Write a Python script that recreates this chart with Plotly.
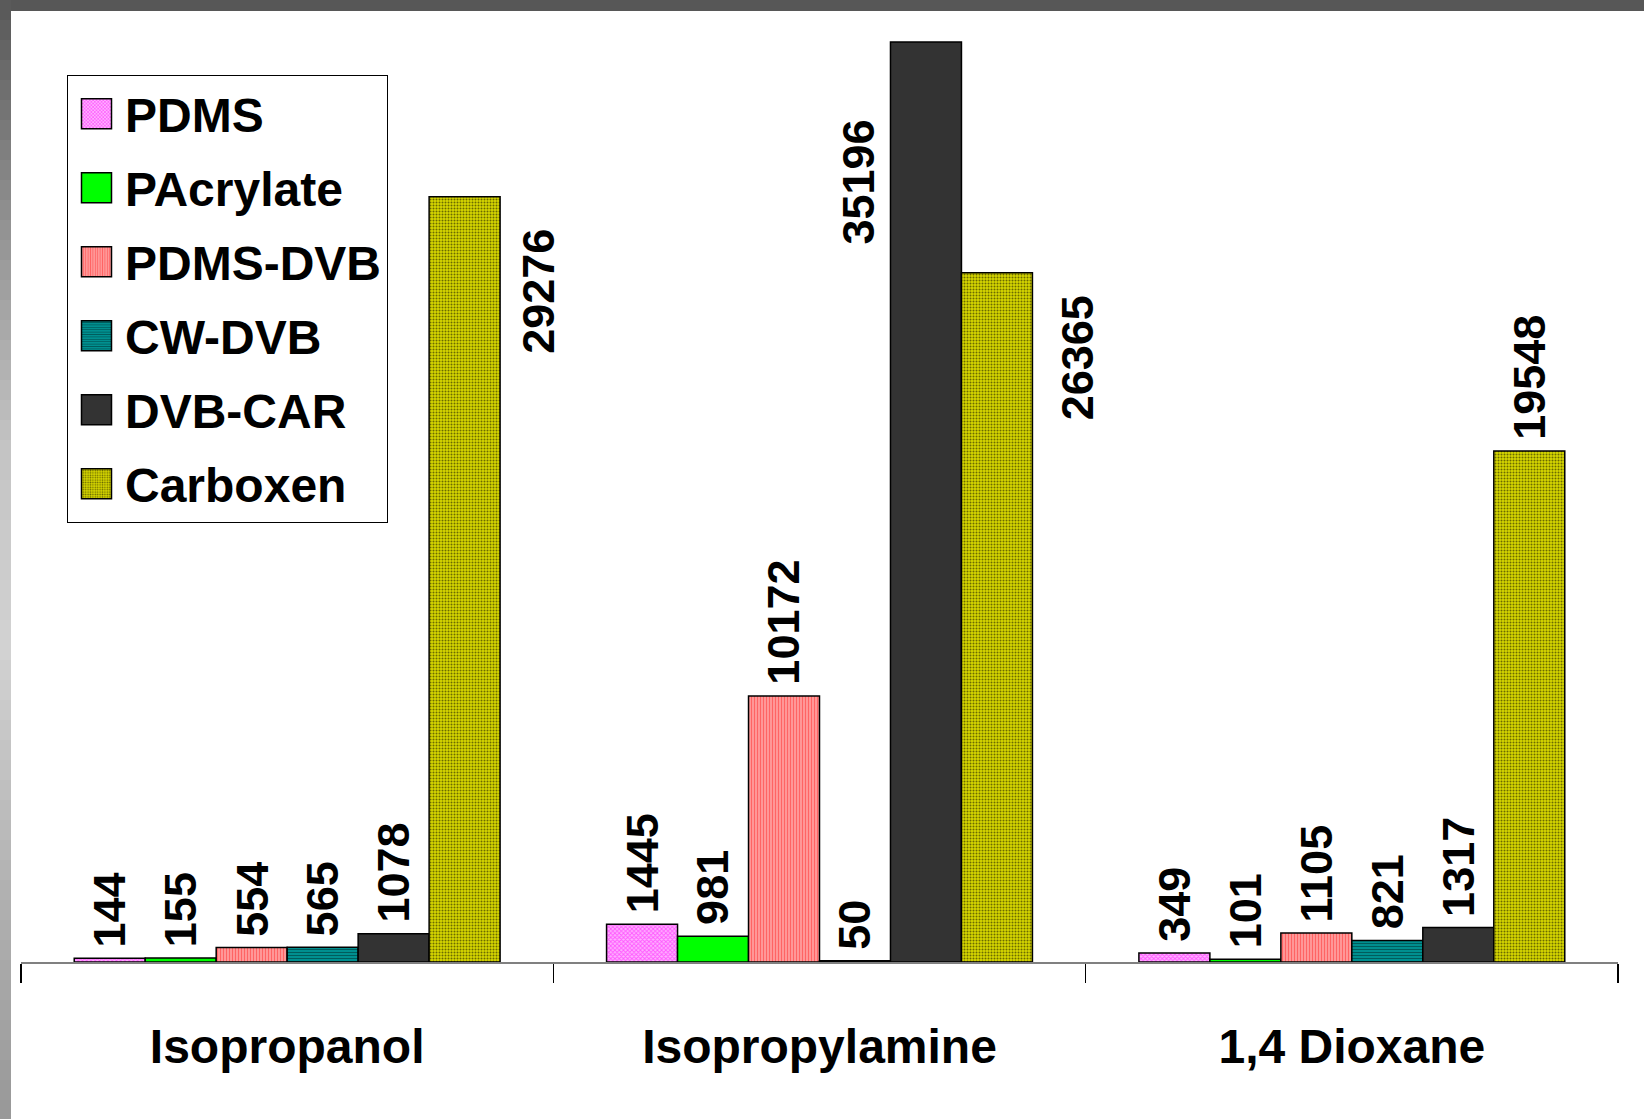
import plotly.graph_objects as go

# ---------------- data ----------------
categories = ["Isopropanol", "Isopropylamine", "1,4 Dioxane"]
series_names = ["PDMS", "PAcrylate", "PDMS-DVB", "CW-DVB", "DVB-CAR", "Carboxen"]
pdms = [144, 1445, 349]
pacrylate = [155, 981, 101]
pdms_dvb = [554, 10172, 1105]
cw_dvb = [565, 50, 821]
dvb_car = [1078, 35196, 1317]
carboxen = [29276, 26365, 19548]
series_values = [pdms, pacrylate, pdms_dvb, cw_dvb, dvb_car, carboxen]

# ---------------- styles ----------------
W, H = 1644, 1119
ML, MR, MT, MB = 21, 26, 21, 157
BARGAP = 0.2
YMAX = 36000

patterns = [
    dict(shape="x", bgcolor="#FFB0FF", fgcolor="#FF00FF", size=3, solidity=0.5),
    dict(shape="", bgcolor="#00FF00"),
    dict(shape="|", bgcolor="#FFA8A8", fgcolor="#FF2020", size=3, solidity=0.5),
    dict(shape="-", bgcolor="#009999", fgcolor="#002020", size=3, solidity=0.45),
    dict(shape="", bgcolor="#333333"),
    dict(shape=".", bgcolor="#D6D600", fgcolor="#000000", size=3, solidity=0.35),
]
colors = ["#FF80FF", "#00FF00", "#FF7070", "#008080", "#333333", "#A0A000"]

# labels that were moved beside the bar: (series, category) -> (xshift px, yshift px from bar top)
moved_labels = {
    (5, 0): (74, -30),
    (5, 1): (80, -20),
    (4, 1): (-67, -75),
}

fig = go.Figure()
for i, (name, vals) in enumerate(zip(series_names, series_values)):
    pat = patterns[i]
    marker = dict(color=colors[i], line=dict(color="black", width=1.5))
    if pat["shape"]:
        marker["pattern"] = pat
    else:
        marker["color"] = pat["bgcolor"]
    fig.add_trace(go.Bar(
        x=categories, y=vals, name=name, marker=marker,
        legendgroup=name, hoverinfo="skip",
    ))

plot_w = W - ML - MR
bar_px = plot_w / len(categories) * (1 - BARGAP) / len(series_names)
label_font = dict(family="Liberation Sans, Arial", size=45, color="black", weight="bold")

annotations = []
for i, vals in enumerate(series_values):
    for j, v in enumerate(vals):
        dx = (i - (len(series_names) - 1) / 2) * bar_px
        if (i, j) in moved_labels:
            sx, sy = moved_labels[(i, j)]
            annotations.append(dict(
                x=categories[j], y=v, xref="x", yref="y", text=str(v),
                textangle=-90, showarrow=False, xanchor="center", yanchor="top",
                xshift=dx + sx, yshift=sy, font=label_font,
            ))
        else:
            annotations.append(dict(
                x=categories[j], y=v, xref="x", yref="y", text=str(v),
                textangle=-90, showarrow=False, xanchor="center", yanchor="bottom",
                xshift=dx, yshift=9, font=label_font,
            ))

# frame: dark top strip and grey gradient left strip
plot_h = H - MT - MB
def px2x(px):
    return (px - ML) / plot_w
def py2y(py):
    return (H - MB - py) / plot_h

shapes = [dict(type="rect", xref="paper", yref="paper",
               x0=px2x(0), x1=px2x(W), y0=py2y(11), y1=py2y(0),
               fillcolor="#575757", line=dict(width=0), layer="above")]
stops = [(0, 0x57), (200, 0x8C), (450, 0xC4), (650, 0xD2), (900, 0xB0), (1119, 0x98)]
step = 20
for py in range(0, H, step):
    mid = py + step / 2
    g = stops[-1][1]
    for k in range(len(stops) - 1):
        if stops[k][0] <= mid <= stops[k + 1][0]:
            t = (mid - stops[k][0]) / (stops[k + 1][0] - stops[k][0])
            g = int(round(stops[k][1] + t * (stops[k + 1][1] - stops[k][1])))
            break
    shapes.append(dict(type="rect", xref="paper", yref="paper",
                       x0=px2x(0), x1=px2x(11), y0=py2y(min(py + step, H)), y1=py2y(py),
                       fillcolor="rgb(%d,%d,%d)" % (g, g, g), line=dict(width=0), layer="above"))

fig.update_layout(
    width=W, height=H,
    margin=dict(l=ML, r=MR, t=MT, b=MB),
    paper_bgcolor="white", plot_bgcolor="white",
    barmode="group", bargap=BARGAP, bargroupgap=0,
    showlegend=True,
    legend=dict(
        x=px2x(67), y=py2y(75), xanchor="left", yanchor="top",
        bgcolor="white", bordercolor="black", borderwidth=1,
        font=dict(family="Liberation Sans, Arial", size=48, color="black", weight="bold"),
        tracegroupgap=8.6, itemwidth=47, traceorder="grouped",
    ),
    xaxis=dict(
        type="category", range=[-0.5, len(categories) - 0.5],
        showline=True, linecolor="#808080", linewidth=2,
        ticks="outside", tickson="boundaries", ticklen=19, tickwidth=1.5, tickcolor="black",
        tickfont=dict(family="Liberation Sans, Arial", size=48, color="black", weight="bold"),
        ticklabelstandoff=41, showgrid=False, zeroline=False, fixedrange=True,
    ),
    yaxis=dict(range=[0, YMAX], visible=False, showgrid=False, fixedrange=True),
    annotations=annotations,
    shapes=shapes,
)

post = """
document.body.style.margin = '0';
function enlargeLegendSymbols() {
    document.querySelectorAll('g.legendpoints path').forEach(function (p) {
        p.setAttribute('d', 'M15,15H-15V-15H15Z');
        p.style.strokeWidth = '1.5px';
        p.style.stroke = 'rgb(0,0,0)';
    });
}
enlargeLegendSymbols();
setTimeout(enlargeLegendSymbols, 50);
"""

fig.write_html("out.html", post_script=post, config={"displayModeBar": False, "staticPlot": True})
